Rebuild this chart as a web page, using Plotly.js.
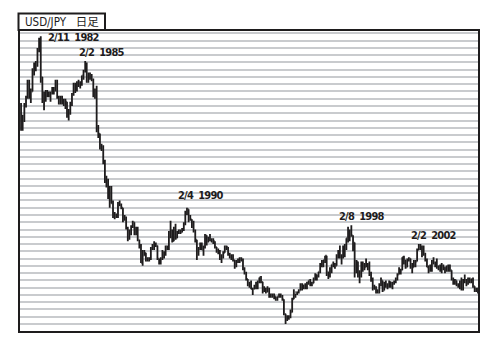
<!DOCTYPE html>
<html><head><meta charset="utf-8">
<script src="https://cdn.plot.ly/plotly-3.0.1.min.js"></script>
<style>html,body{margin:0;padding:0;background:#fff}#chart{width:500px;height:353px}</style>
</head><body><div id="chart"></div>
<script>
// Monthly USD/JPY bars, first month = 1981-11
const firstYear = 1981, firstMonth = 11;
const openP = [
231,215,
220,231,236,246,238,240,255,258,259,268,276,250,
235,239,237,239,237,239,240,241,246,236,233,235,
232,234,233,225,225,231,238,245,242,246,246,245,
251,254,259,251,251,251,248,237,237,216,211,202,
200,192,180,178,167,173,163,155,154,154,163,162,
160,153,153,146,140,144,147,150,142,146,138,133,
122,127,129,124,125,125,132,133,135,134,125,122,
125,129,128,133,132,143,144,137,144,139,143,143,
143,145,149,157,159,152,152,147,144,138,129,132,
135,131,133,141,137,138,138,137,137,133,131,130,
125,126,129,133,133,128,126,127,124,120,123,124,
125,124,118,115,111,107,106,104,104,105,108,109,
112,109,104,103,102,104,99,100,100,99,97,99,
100,99,97,87,84,84,85,88,97,99,102,102,
103,107,105,107,105,108,110,107,108,111,114,113,
116,121,120,124,127,116,115,118,121,121,120,127,
130,127,126,133,132,139,138,144,141,136,116,123,
113,116,119,119,119,121,121,115,110,106,104,102,
102,107,110,103,108,107,106,109,106,108,109,111,
114,116,117,126,124,119,124,125,119,119,122,123,
131,134,133,132,128,124,119,120,118,122,122,122,
119,120,118,118,119,119,120,120,117,111,110,110,
107,106,109,104,110,109,109,111,110,111,106,103,
103];
const highP = [
232,224,
232,237,248,248,242,256,260,261,270,277,278,250,
240,241,241,240,240,243,243,248,248,237,237,237,
235,235,233,228,233,239,246,246,247,248,247,251,
255,261,260,253,253,252,249,242,244,217,211,204,
203,193,182,180,175,175,165,157,156,164,165,163,
160,155,154,147,145,148,151,150,147,147,138,135,
131,131,129,126,126,133,135,137,136,134,125,126,
131,130,134,134,144,151,145,147,149,144,145,145,
146,150,158,160,159,155,152,151,145,138,133,136,
136,134,142,141,140,142,139,139,137,133,132,131,
128,130,134,134,133,129,128,128,124,124,125,126,
126,125,119,116,111,109,110,105,107,109,110,112,
113,109,106,105,106,105,101,101,101,99,99,101,
101,100,97,87,86,86,90,98,104,101,102,104,
108,108,107,108,109,110,111,109,112,115,114,116,
122,124,124,127,127,116,119,121,123,122,128,131,
134,128,134,135,139,147,145,148,141,136,124,123,
117,123,123,122,125,122,123,116,112,107,106,104,
108,112,110,109,110,108,110,109,109,110,112,115,
119,118,126,127,124,125,126,125,122,124,124,132,
135,135,134,134,129,125,120,121,124,126,123,125,
120,121,122,121,119,120,121,121,117,112,111,110,
108,110,112,111,114,111,112,112,111,112,106,105,
105];
const lowP = [
213,213,
219,229,235,235,232,240,251,254,257,267,246,232,
227,233,236,236,233,238,238,240,235,231,231,231,
230,228,222,220,224,230,237,239,240,243,242,244,
248,253,246,246,248,247,236,235,212,208,200,199,
190,177,174,166,160,163,153,152,153,153,161,159,
150,151,145,137,138,141,146,141,141,137,132,122,
120,127,123,123,123,124,131,131,133,124,121,121,
124,125,127,131,131,139,136,137,138,139,142,142,
143,144,148,155,150,151,146,143,136,124,127,131,
131,127,132,134,136,137,136,135,132,129,128,124,
122,125,129,131,127,125,124,123,118,119,122,122,
123,117,114,110,106,105,104,100,104,104,104,108,
108,101,102,101,102,98,98,98,97,96,96,98,
98,96,86,80,82,83,84,88,97,98,100,101,
103,103,104,104,104,107,106,106,108,110,110,112,
115,119,119,122,113,111,112,115,119,118,120,125,
125,121,125,126,131,136,137,140,130,112,115,112,
108,112,116,117,119,117,113,109,103,104,101,101,
101,106,102,103,105,104,105,105,104,107,108,110,
114,114,117,121,118,119,123,118,115,119,119,123,
131,131,126,127,123,119,115,116,116,121,119,118,
117,116,115,117,115,116,116,116,110,107,107,106,
105,104,103,103,108,106,107,108,108,105,102,102,
101];
const closeP = [
215,220,
231,236,246,238,240,255,258,259,268,276,250,235,
239,237,239,237,239,240,241,246,236,233,235,232,
234,233,225,225,231,238,245,242,246,246,245,251,
254,259,251,251,251,248,237,237,216,211,202,200,
192,180,178,167,173,163,155,154,154,163,162,160,
153,153,146,140,144,147,150,142,146,138,133,122,
127,129,124,125,125,132,133,135,134,125,122,125,
129,128,133,132,143,144,137,144,139,143,143,143,
145,149,157,159,152,152,147,144,138,129,132,135,
131,133,141,137,138,138,137,137,133,131,130,125,
126,129,133,133,128,126,127,124,120,123,124,125,
124,118,115,111,107,106,104,104,105,108,109,112,
109,104,103,102,104,99,100,100,99,97,99,100,
99,97,87,84,84,85,88,97,99,102,102,103,
107,105,107,105,108,110,107,108,111,114,113,116,
121,120,124,127,116,115,118,121,121,120,127,130,
127,126,133,132,139,138,144,141,136,116,123,113,
116,119,119,119,121,121,115,110,106,104,102,102,
107,110,103,108,107,106,109,106,108,109,111,114,
116,117,126,124,119,124,125,119,119,122,123,131,
134,133,132,128,124,119,120,118,122,122,122,119,
120,118,118,119,119,120,120,117,111,110,110,107,
106,109,104,110,109,109,111,110,111,106,103,103,
104];
const peakLabels = ['2/11\u00a0\u00a01982','2/2\u00a0\u00a01985','2/4\u00a0\u00a01990','2/8\u00a0\u00a01998','2/2\u00a0\u00a02002'];
const chartTitle = 'USD/JPY\u00a0\u00a0\u00a0日足';

const dates = [];
for (let i = 0; i < openP.length; i++) {
  const m = firstMonth - 1 + i;
  const y = firstYear + Math.floor(m / 12);
  const mm = (m % 12) + 1;
  dates.push(y + '-' + String(mm).padStart(2, '0') + '-15');
}

const barColor = '#1e1c1d';
const trace = {
  type: 'ohlc', x: dates, open: openP, high: highP, low: lowP, close: closeP,
  increasing: {line: {color: barColor, width: 1.8}},
  decreasing: {line: {color: barColor, width: 1.8}},
  tickwidth: 0.45, hoverinfo: 'skip', showlegend: false
};

const W = 460, H = 302, L = 19, T = 30;
const px = v => (v - L) / W;
const py = v => (T + H - v) / H;
const fam = '"DejaVu Sans Condensed", "DejaVu Sans", "Noto Sans CJK JP", sans-serif';
const lblFont = {family: fam, size: 11, weight: 'bold', color: '#1e1c1d'};
const lblPos = [[47, 37.5], [78, 52.5], [177, 196], [338, 216.5], [410, 235.5]];
const annotations = peakLabels.map((t, i) => ({
  text: '<span style="letter-spacing:-0.8px">' + t + '</span>',
  xref: 'paper', yref: 'paper', x: px(lblPos[i][0]), y: py(lblPos[i][1]),
  xanchor: 'left', yanchor: 'middle', showarrow: false, font: lblFont, borderpad: 0
}));
annotations.push({
  text: chartTitle, xref: 'paper', yref: 'paper', x: px(24), y: py(22),
  xanchor: 'left', yanchor: 'middle', showarrow: false, borderpad: 0,
  font: {family: fam, size: 11.5, color: '#1e1c1d'}
});

const layout = {
  width: 500, height: 353,
  margin: {l: L, r: 500 - L - W, t: T, b: 353 - T - H, pad: 0},
  paper_bgcolor: '#fff', plot_bgcolor: '#fff',
  showlegend: false,
  xaxis: {type: 'date', range: ['1981-10-08', '2005-02-03'], showgrid: false, showticklabels: false,
          ticks: '', zeroline: false, showline: false, rangeslider: {visible: false}, fixedrange: true},
  yaxis: {range: [74.5, 282.3], tick0: 0, dtick: 5, showgrid: true, gridcolor: '#c9cbce', gridwidth: 2,
          showticklabels: false, ticks: '', zeroline: false, showline: false, fixedrange: true},
  shapes: [
    {type: 'rect', xref: 'paper', yref: 'paper', x0: 0, x1: 1, y0: 0, y1: 1,
     line: {color: '#1e1c1d', width: 2}, fillcolor: 'rgba(0,0,0,0)', layer: 'above'},
    {type: 'rect', xref: 'paper', yref: 'paper', x0: px(18.5), x1: px(105), y0: 1, y1: py(13.5),
     line: {color: '#1e1c1d', width: 2}, fillcolor: 'rgba(0,0,0,0)', layer: 'above'}
  ],
  annotations: annotations
};

Plotly.newPlot('chart', [trace], layout, {displayModeBar: false, staticPlot: true});
</script>
</body></html>
